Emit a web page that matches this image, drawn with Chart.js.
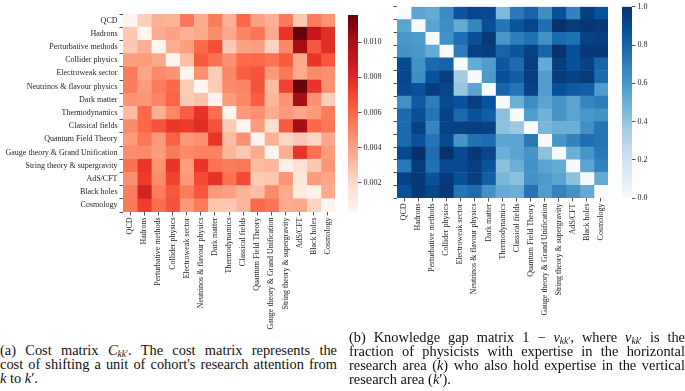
<!DOCTYPE html>
<html>
<head>
<meta charset="utf-8">
<script src="https://cdn.jsdelivr.net/npm/chart.js@4.4.1/dist/chart.umd.min.js"></script>
<style>
  html, body { margin:0; padding:0; background:#fff; }
  #wrap { position:relative; width:685px; height:391px; overflow:hidden; background:#fff; }
  canvas { position:absolute; }
  .cap { position:absolute; font-family:'Liberation Serif', serif; font-size:14.4px; line-height:14px; color:#111; }
  .cap div { white-space:nowrap; }
  sub { font-size:9.5px; vertical-align:-2px; line-height:0; }
</style>
</head>
<body>
<div id="wrap">
  <canvas id="costHeat" width="345" height="340" style="left:0;top:0"></canvas>
  <canvas id="costBar" width="60" height="230" style="left:340px;top:0"></canvas>
  <canvas id="gapHeat" width="268" height="340" style="left:345px;top:0"></canvas>
  <canvas id="gapBar" width="70" height="215" style="left:615px;top:0"></canvas>
  <div class="cap" style="left:0;top:343px;width:337px">
    <div class="j"><span>(a) Cost matrix <i>C</i><sub><i>kk</i>′</sub>. The cost matrix represents the</span></div>
    <div class="j"><span>cost of shifting a unit of cohort's research attention from</span></div>
    <div><span><i>k</i> to <i>k</i>′.</span></div>
  </div>
  <div class="cap" style="left:349px;top:330px;width:336px">
    <div class="j"><span>(b) Knowledge gap matrix 1 − <i>ν</i><sub><i>kk</i>′</sub>, where <i>ν</i><sub><i>kk</i>′</sub> is the</span></div>
    <div class="j"><span>fraction of physicists with expertise in the horizontal</span></div>
    <div class="j"><span>research area (<i>k</i>) who also hold expertise in the vertical</span></div>
    <div><span>research area (<i>k</i>′).</span></div>
  </div>
</div>
<script>
// ---------- data ----------
const areas = ['QCD','Hadrons','Perturbative methods','Collider physics','Electroweak sector',
  'Neutrinos & flavour physics','Dark matter','Thermodynamics','Classical fields',
  'Quantum Field Theory','Gauge theory & Grand Unification','String theory & supergravity',
  'AdS/CFT','Black holes','Cosmology'];

// Cost matrix C_kk' (rows = vertical k', columns = horizontal k)
const costQCD        = [0.0003,0.0024,0.0035,0.0034,0.0055,0.0037,0.0053,0.0035,0.0060,0.0040,0.0035,0.0054,0.0026,0.0053,0.0045];
const costHadrons    = [0.0027,0.0003,0.0037,0.0040,0.0035,0.0038,0.0047,0.0038,0.0050,0.0056,0.0037,0.0076,0.0115,0.0089,0.0078];
const costPert       = [0.0026,0.0036,0.0003,0.0036,0.0041,0.0059,0.0068,0.0026,0.0040,0.0041,0.0022,0.0049,0.0101,0.0065,0.0079];
const costCollider   = [0.0041,0.0042,0.0038,0.0003,0.0030,0.0064,0.0057,0.0046,0.0059,0.0060,0.0057,0.0064,0.0038,0.0076,0.0065];
const costElectroweak= [0.0053,0.0039,0.0048,0.0045,0.0003,0.0046,0.0025,0.0050,0.0063,0.0066,0.0043,0.0054,0.0037,0.0048,0.0046];
const costNeutrinos  = [0.0053,0.0042,0.0053,0.0059,0.0025,0.0003,0.0025,0.0048,0.0050,0.0066,0.0031,0.0071,0.0115,0.0076,0.0046];
const costDarkMatter = [0.0045,0.0044,0.0050,0.0061,0.0025,0.0029,0.0003,0.0042,0.0049,0.0063,0.0033,0.0045,0.0101,0.0046,0.0024];
const costThermo     = [0.0031,0.0060,0.0035,0.0049,0.0063,0.0077,0.0058,0.0003,0.0043,0.0046,0.0037,0.0043,0.0039,0.0042,0.0053];
const costClassical  = [0.0048,0.0060,0.0066,0.0075,0.0074,0.0079,0.0066,0.0025,0.0003,0.0042,0.0018,0.0064,0.0101,0.0060,0.0055];
const costQFT        = [0.0042,0.0055,0.0043,0.0062,0.0043,0.0046,0.0076,0.0031,0.0046,0.0003,0.0035,0.0021,0.0026,0.0021,0.0038];
const costGauge      = [0.0047,0.0048,0.0042,0.0053,0.0048,0.0051,0.0051,0.0033,0.0026,0.0037,0.0003,0.0036,0.0076,0.0057,0.0042];
const costString     = [0.0057,0.0076,0.0045,0.0076,0.0042,0.0076,0.0057,0.0053,0.0055,0.0031,0.0033,0.0006,0.0017,0.0027,0.0044];
const costAdS        = [0.0046,0.0074,0.0048,0.0071,0.0043,0.0069,0.0077,0.0057,0.0069,0.0025,0.0027,0.0044,0.0012,0.0042,0.0039];
const costBlackHoles = [0.0053,0.0084,0.0053,0.0065,0.0053,0.0065,0.0043,0.0041,0.0034,0.0030,0.0048,0.0037,0.0011,0.0006,0.0037];
const costCosmology  = [0.0054,0.0073,0.0058,0.0066,0.0043,0.0053,0.0027,0.0026,0.0033,0.0059,0.0056,0.0037,0.0038,0.0022,0.0003];

// Knowledge gap matrix 1 - nu_kk'
const gapQCD        = [0.00,0.55,0.52,0.65,0.86,0.92,0.90,0.45,0.72,0.80,0.64,0.88,0.68,0.95,0.87];
const gapHadrons    = [0.55,0.00,0.55,0.64,0.52,0.67,0.88,0.74,0.86,0.92,0.76,1.00,0.96,0.98,0.97];
const gapPert       = [0.60,0.59,0.00,0.63,0.76,0.88,0.97,0.60,0.70,0.75,0.63,0.78,0.75,0.93,0.95];
const gapCollider   = [0.62,0.60,0.52,0.00,0.70,0.94,0.95,0.80,0.86,0.93,0.80,1.00,0.88,0.97,0.97];
const gapElectroweak= [0.90,0.62,0.78,0.80,0.00,0.52,0.58,0.85,0.77,0.95,0.52,0.95,0.88,0.93,0.80];
const gapNeutrinos  = [0.92,0.64,0.87,0.95,0.36,0.00,0.59,0.88,0.82,0.95,0.58,0.96,0.93,0.96,0.78];
const gapDarkMatter = [0.90,0.87,0.96,0.92,0.39,0.55,0.00,0.80,0.74,0.93,0.58,0.88,0.84,0.82,0.58];
const gapThermo     = [0.63,0.84,0.70,0.90,0.87,0.95,0.87,0.00,0.50,0.64,0.55,0.61,0.55,0.67,0.70];
const gapClassical  = [0.78,0.88,0.74,0.93,0.78,0.87,0.82,0.42,0.00,0.58,0.48,0.61,0.55,0.60,0.62];
const gapQFT        = [0.78,0.93,0.67,0.93,0.94,0.95,0.93,0.42,0.38,0.00,0.46,0.50,0.50,0.63,0.74];
const gapGauge      = [0.78,0.87,0.74,0.90,0.61,0.75,0.77,0.55,0.55,0.72,0.00,0.61,0.68,0.76,0.74];
const gapString     = [0.90,1.00,0.77,1.00,0.90,0.97,0.92,0.50,0.55,0.61,0.42,0.00,0.50,0.61,0.72];
const gapAdS        = [0.72,0.96,0.75,0.90,0.90,0.95,0.87,0.42,0.50,0.62,0.55,0.52,0.00,0.55,0.68];
const gapBlackHoles = [0.93,0.97,0.87,0.97,0.88,0.95,0.82,0.46,0.42,0.62,0.59,0.55,0.42,0.00,0.52];
const gapCosmology  = [0.88,0.97,0.92,0.97,0.74,0.77,0.62,0.52,0.50,0.74,0.58,0.68,0.62,0.52,0.00];

const costMatrix = [costQCD,costHadrons,costPert,costCollider,costElectroweak,costNeutrinos,costDarkMatter,
  costThermo,costClassical,costQFT,costGauge,costString,costAdS,costBlackHoles,costCosmology];
const gapMatrix = [gapQCD,gapHadrons,gapPert,gapCollider,gapElectroweak,gapNeutrinos,gapDarkMatter,
  gapThermo,gapClassical,gapQFT,gapGauge,gapString,gapAdS,gapBlackHoles,gapCosmology];

const costRange = [0.00034, 0.01154];
const gapRange = [0, 1];
const costTicks = [0.002, 0.004, 0.006, 0.008, 0.010];
const gapTicks = [0.0, 0.2, 0.4, 0.6, 0.8, 1.0];

// ---------- caption justification (fit each full line to its box) ----------
document.querySelectorAll('.cap .j').forEach(d => {
  const span = d.firstElementChild;
  const target = d.parentElement.getBoundingClientRect().width;
  const natural = span.getBoundingClientRect().width;
  const spaces = span.textContent.trim().split(/\s+/).length - 1;
  if (spaces > 0) d.style.wordSpacing = ((target - natural) / spaces) + 'px';
});

// ---------- styles ----------
const REDS = [[255,245,240],[254,224,210],[252,187,161],[252,146,114],[251,106,74],[239,59,44],[203,24,29],[165,15,21],[103,0,13]];
const BLUES = [[247,251,255],[222,235,247],[198,219,239],[158,202,225],[107,174,214],[66,146,198],[33,113,181],[8,81,156],[8,48,107]];
const FONT = { family: "'Liberation Serif', serif", size: 8 };
const INK = '#262626';

function cmap(stops, t) {
  t = Math.max(0, Math.min(1, t));
  const n = stops.length - 1, x = t * n;
  const i = Math.min(n - 1, Math.floor(x)), f = x - i;
  const a = stops[i], b = stops[i + 1];
  return 'rgb(' + a.map((v, k) => Math.round(v + (b[k] - v) * f)).join(',') + ')';
}

function heatmap(id, matrix, stops, range, showRowLabels, g) {
  const datasets = areas.map((col, j) => ({
    label: col,
    data: areas.map(() => [j, j + 1]),
    backgroundColor: areas.map((row, i) => cmap(stops, (matrix[i][j] - range[0]) / (range[1] - range[0]))),
    borderWidth: 0,
    barPercentage: 1,
    categoryPercentage: 1,
    grouped: false
  }));
  const grid = { drawOnChartArea: false, drawTicks: true, tickLength: 3.5, color: INK, lineWidth: 0.8 };
  new Chart(document.getElementById(id), {
    type: 'bar',
    data: { labels: areas, datasets },
    options: {
      indexAxis: 'y',
      responsive: false,
      animation: false,
      events: [],
      layout: { padding: { top: g.top, right: g.right, left: 0, bottom: 0 } },
      plugins: { legend: { display: false }, tooltip: { enabled: false } },
      scales: {
        x: {
          type: 'linear', min: 0, max: areas.length, position: 'bottom',
          afterBuildTicks: s => { s.ticks = areas.map((a, j) => ({ value: j + 0.5 })); },
          ticks: { autoSkip: false, minRotation: 90, maxRotation: 90, padding: 2, font: FONT, color: INK,
                   callback: (v, i) => areas[i] },
          grid, border: { display: false },
          afterFit: s => { s.height = g.xh; }
        },
        y: {
          type: 'category', offset: true,
          ticks: { autoSkip: false, padding: 2, font: FONT, color: INK,
                   callback: (v, i) => showRowLabels ? areas[i] : '' },
          grid, border: { display: false },
          afterFit: s => { s.width = g.yw; }
        }
      }
    }
  });
}

function colorbar(id, stops, range, ticks, digits, g) {
  new Chart(document.getElementById(id), {
    type: 'bar',
    data: { labels: [''], datasets: [{
      data: [range],
      barPercentage: 1, categoryPercentage: 1, borderWidth: 0,
      backgroundColor: c => {
        const a = c.chart.chartArea;
        if (!a) return 'transparent';
        const gr = c.chart.ctx.createLinearGradient(0, a.bottom, 0, a.top);
        stops.forEach((s, i) => gr.addColorStop(i / (stops.length - 1), 'rgb(' + s.join(',') + ')'));
        return gr;
      }
    }] },
    options: {
      responsive: false, animation: false, events: [],
      layout: { padding: { left: g.left, top: g.top, bottom: g.bottom, right: 0 } },
      plugins: { legend: { display: false }, tooltip: { enabled: false } },
      scales: {
        x: { display: false },
        y: {
          position: 'right', min: range[0], max: range[1],
          afterBuildTicks: s => { s.ticks = ticks.map(v => ({ value: v })); },
          ticks: { font: FONT, color: INK, padding: 2, callback: v => v.toFixed(digits) },
          grid: { drawOnChartArea: false, drawTicks: true, tickLength: 3.5, color: INK, lineWidth: 0.8 },
          border: { display: false },
          afterFit: s => { s.width = g.yw; }
        }
      }
    }
  });
}

heatmap('costHeat', costMatrix, REDS, costRange, true, { top: 14, right: 10, xh: 128, yw: 123 });
heatmap('gapHeat', gapMatrix, BLUES, gapRange, false, { top: 3, right: 5, xh: 142, yw: 52 });
colorbar('costBar', REDS, costRange, costTicks, 3, { left: 8, top: 15, bottom: 18, yw: 42 });
colorbar('gapBar', BLUES, gapRange, gapTicks, 1, { left: 7, top: 2, bottom: 17, yw: 53 });
</script>
</body>
</html>
